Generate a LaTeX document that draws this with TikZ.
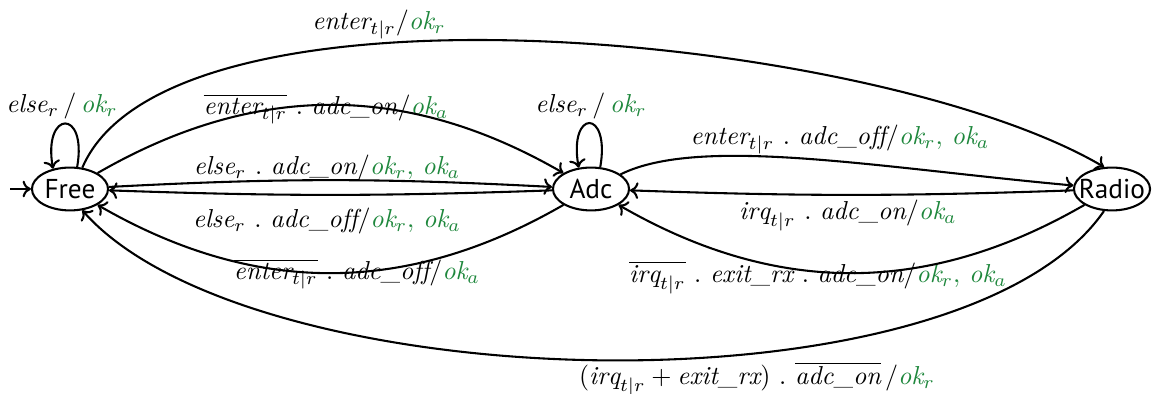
\documentclass[tikz,border=0pt]{standalone}
\usepackage{fontspec}
\newfontfamily\statefont{PT Sans}
\usetikzlibrary{shapes.geometric,arrows.meta}
\definecolor{okgreen}{RGB}{30,135,60}
\newcommand{\Okr}{\textcolor{okgreen}{\mathit{ok}_r}}
\newcommand{\Oka}{\textcolor{okgreen}{\mathit{ok}_a}}
\newcommand{\Okra}{\textcolor{okgreen}{\mathit{ok}_r,\,\mathit{ok}_a}}
\newcommand{\Sep}{\ .\ }
\begin{document}
\begin{tikzpicture}[x=0.385pt,y=0.385pt,
  state/.style={ellipse,draw,thick,minimum width=29.3pt,minimum height=16.5pt,
    inner xsep=-4pt,inner ysep=0pt,font=\statefont\fontsize{10.5}{12}\selectfont},
  trans/.style={thick,-{To[length=3.2pt,width=6.4pt]}},
  lbl/.style={anchor=base,inner sep=0pt,font=\fontsize{10}{12}\selectfont}]
\useasboundingbox (0,0) rectangle (1152,394);

% states
\node[state] (Free)  at (70,205)   {Free};
\node[state] (Adc)   at (591,205)  {Adc};
\node[state] (Radio) at (1112,205) {Radio};
\coordinate (init) at (10,205);

% labels
\node[lbl] (l1)  at (379,364) {$\mathit{enter}_{t|r}/\Okr$};
\node[lbl] (l2)  at (62,281)  {$\mathit{else}_r\,/\,\Okr$};
\node[lbl] (l3)  at (591,281) {$\mathit{else}_r\,/\,\Okr$};
\node[lbl] (l4)  at (326,279) {$\overline{\mathit{enter}_{t|r}}\Sep\mathit{adc\_on}/\Oka$};
\node[lbl] (l5)  at (327,219) {$\mathit{else}_r\Sep\mathit{adc\_on}/\Okra$};
\node[lbl] (l6)  at (327,166) {$\mathit{else}_r\Sep\mathit{adc\_off}/\Okra$};
\node[lbl] (l7)  at (357,114) {$\overline{\mathit{enter}_{t|r}}\Sep\mathit{adc\_off}/\Oka$};
\node[lbl] (l8)  at (840,249) {$\mathit{enter}_{t|r}\Sep\mathit{adc\_off}/\Okra$};
\node[lbl] (l9)  at (848,174) {$\mathit{irq}_{t|r}\Sep\mathit{adc\_on}/\Oka$};
\node[lbl] (l10) at (818,111) {$\overline{\mathit{irq}_{t|r}}\Sep\mathit{exit\_rx}\Sep\mathit{adc\_on}/\Okra$};
\node[lbl] (l11) at (757,9)   {$(\mathit{irq}_{t|r}+\mathit{exit\_rx})\Sep\overline{\mathit{adc\_on}}\,/\Okr$};

% transitions
\draw[trans] (init) -- (Free);
\draw[trans] (Free.72) to[out=80,in=100,distance=23pt] (Free.130);
\draw[trans] (Adc.67) to[out=80,in=100,distance=23pt] (Adc.120);
\draw[trans] (Free.60) .. controls (170,430) and (880,359) .. (Radio.110);
\draw[trans] (Free) to[bend left=30] (Adc);
\draw[trans] (Free) to[bend left=3] (Adc);
\draw[trans] (Adc) to[bend left=2] (Free);
\draw[trans] (Adc) to[bend left=30] (Free);
\draw[trans] (Adc) .. controls (700,259) and (880,226) .. (Radio);
\draw[trans] (Radio) to[bend left=2] (Adc);
\draw[trans] (Radio) to[bend left=30] (Adc);
\draw[trans] (Radio.-110) .. controls (960,-26) and (250,-6) .. (Free.-60);
\end{tikzpicture}
\end{document}
